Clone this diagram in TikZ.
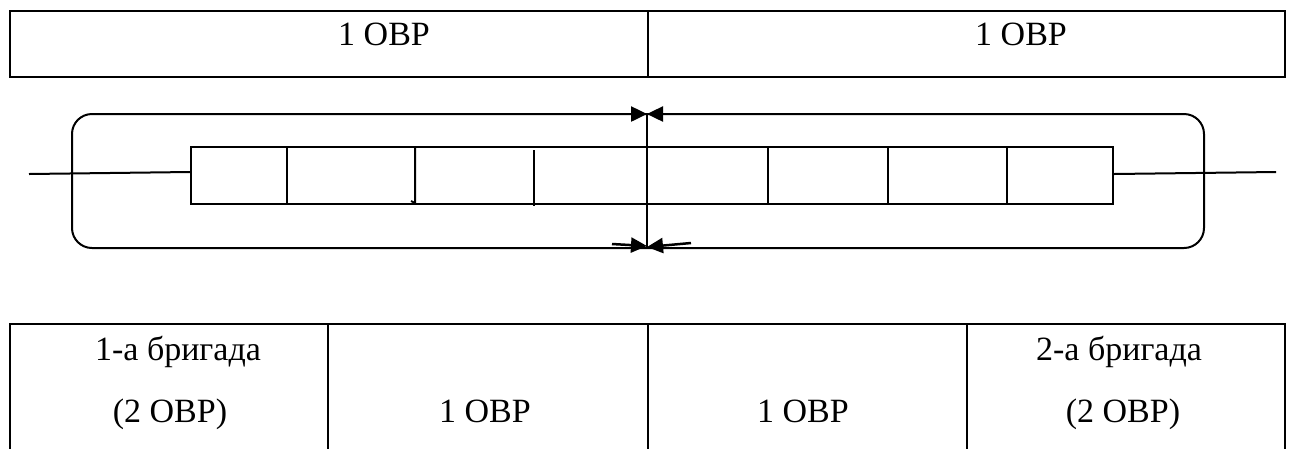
\documentclass[tikz,border=0pt]{standalone}
\usepackage{fontspec}
\setmainfont{Liberation Serif}
\usetikzlibrary{arrows.meta}
\begin{document}
\begin{tikzpicture}[x=1pt,y=-1pt,
  cell/.style={draw, line width=2.5pt, inner sep=0pt},
  txt/.style={font=\fontsize{34}{40}\selectfont, inner sep=0pt, anchor=base},
  thin/.style={line width=2pt},
  arr/.style={line width=2.5pt, -{Triangle[length=16pt,width=15pt]}}]
\useasboundingbox (0,0) rectangle (1290,448);
% top table
\node[cell, minimum width=638pt, minimum height=66pt] (t1) at (329,44) {};
\node[cell, minimum width=637pt, minimum height=66pt] (t2) at (966.5,44) {};
\node[txt, anchor=base west] (t1txt) at (338,45) {1 ОВР};
\node[txt, anchor=base west] (t2txt) at (975,45) {1 ОВР};
% rounded frame
\node[draw, line width=2pt, rounded corners=20pt, minimum width=1132pt, minimum height=134pt, inner sep=0pt] (frame) at (638,181) {};
% strip of cells
\node[draw, line width=2pt, minimum width=922pt, minimum height=57pt, inner sep=0pt] (strip) at (652,175.5) {};
\draw[thin] (287,147) -- (287,204);
\draw[thin] (415,147) -- (415,203) -- (411,201);
\draw[thin] (534,150) -- (534,206);
\draw[thin] (767.5,147) -- (767.5,204);
\draw[thin] (888,147) -- (888,204);
\draw[thin] (1007,147) -- (1007,204);
% side lines
\coordinate (lend) at (29,174);
\coordinate (rend) at (1276,172);
\draw[thin] (lend) -- (strip.west |- 0,172);
\draw[thin] (strip.east |- 0,174) -- (rend);
% centre line and arrows
\coordinate (ctop) at (647,114);
\coordinate (cbot) at (647,247);
\draw[line width=1.5pt] (ctop) -- (cbot);
\coordinate (atl) at (576,114);
\coordinate (atr) at (729,114);
\coordinate (abl) at (612,244);
\coordinate (abr) at (691,243);
\draw[arr] (atl) -- (ctop);
\draw[arr] (atr) -- (ctop);
\draw[arr] (abl) -- (647,246);
\draw[arr] (abr) -- (cbot);
% bottom table
\node[cell, minimum width=318pt, minimum height=146pt] (b1) at (169,397) {};
\node[cell, minimum width=320pt, minimum height=146pt] (b2) at (488,397) {};
\node[cell, minimum width=319pt, minimum height=146pt] (b3) at (807.5,397) {};
\node[cell, minimum width=318pt, minimum height=146pt] (b4) at (1126,397) {};
\node[txt] (b1a) at (178,360) {1-а бригада};
\node[txt] (b1b) at (170,422) {(2 ОВР)};
\node[txt] (b2a) at (485,422) {1 ОВР};
\node[txt] (b3a) at (803,422) {1 ОВР};
\node[txt] (b4a) at (1119,360) {2-а бригада};
\node[txt] (b4b) at (1123,422) {(2 ОВР)};
\end{tikzpicture}
\end{document}
